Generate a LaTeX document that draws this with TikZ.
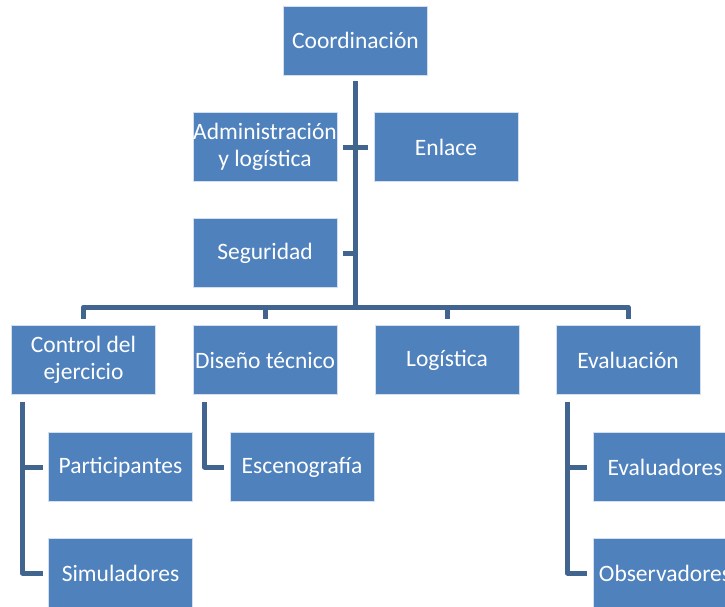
\documentclass[tikz,border=0pt]{standalone}
\usepackage{fontspec}
\setmainfont{Carlito}
\usetikzlibrary{positioning}
\usetikzlibrary{calc}
\definecolor{boxblue}{HTML}{4F81BD}
\definecolor{lineblue}{HTML}{41658F}
\tikzset{%
  unit/.style = {rectangle,fill=boxblue,draw=white!75!boxblue,line width=0.8pt,
        text=white,minimum width=144pt,minimum height=69pt,inner sep=0pt,
        align=center,font=\fontsize{23.5}{26.5}\selectfont},
  link/.style = {draw=lineblue,line width=5pt,line join=round}
}

\begin{document}
\begin{tikzpicture}[x=1pt,y=-1pt]
    \useasboundingbox (0,0) rectangle (725,606);
    % top and assistants
    \node[unit] (coord) at (355.5,40.5) {Coordinación};
    \node[unit] (admin) at (265,147) {Administración\\y logística};
    \node[unit] (enlace) at (446,147) {Enlace};
    \node[unit] (seguridad) at (265,253) {Seguridad};
    % second level
    \node[unit] (control) at (83.5,360) {Control del\\ejercicio};
    \node[unit] (diseno) at (265,360) {Diseño técnico};
    \node[unit] (logistica) at (447,360) {Logística};
    \node[unit] (evaluacion) at (628,360) {Evaluación};
    % third level
    \node[unit] (participantes) at (120.5,467) {Participantes};
    \node[unit] (simuladores) at (120.5,573) {Simuladores};
    \node[unit] (escenografia) at (302,467) {Escenografía};
    \node[unit] (evaluadores) at (665,467) {Evaluadores};
    \node[unit] (observadores) at (665,573) {Observadores};

    \coordinate (hub) at (coord.south |- 0,307);
    \draw[link] ($(coord.south)+(0,6)$) -- (hub);
    \draw[link] ($(admin.east)+(6,0)$) -- ($(enlace.west)+(-6,0)$);
    \draw[link] ($(seguridad.east)+(6,0)$) -- (coord.south |- seguridad.east);
    \draw[link] ($(control.north)+(0,-6)$) |- ($(evaluacion.north)+(0,-18)$)
        -- ($(evaluacion.north)+(0,-6)$);
    \draw[link] ($(diseno.north)+(0,-6)$) -- ($(diseno.north)+(0,-18)$);
    \draw[link] ($(logistica.north)+(0,-6)$) -- ($(logistica.north)+(0,-18)$);

    \draw[link] ($(control.south west)+(11.5,7)$) |- ($(participantes.west)+(-5,0)$);
    \draw[link] ($(control.south west)+(11.5,7)$) |- ($(simuladores.west)+(-5,0)$);
    \draw[link] ($(diseno.south west)+(12,7)$) |- ($(escenografia.west)+(-6,0)$);
    \draw[link] ($(evaluacion.south west)+(12,7)$) |- ($(evaluadores.west)+(-6,0)$);
    \draw[link] ($(evaluacion.south west)+(12,7)$) |- ($(observadores.west)+(-6,0)$);
\end{tikzpicture}
\end{document}
